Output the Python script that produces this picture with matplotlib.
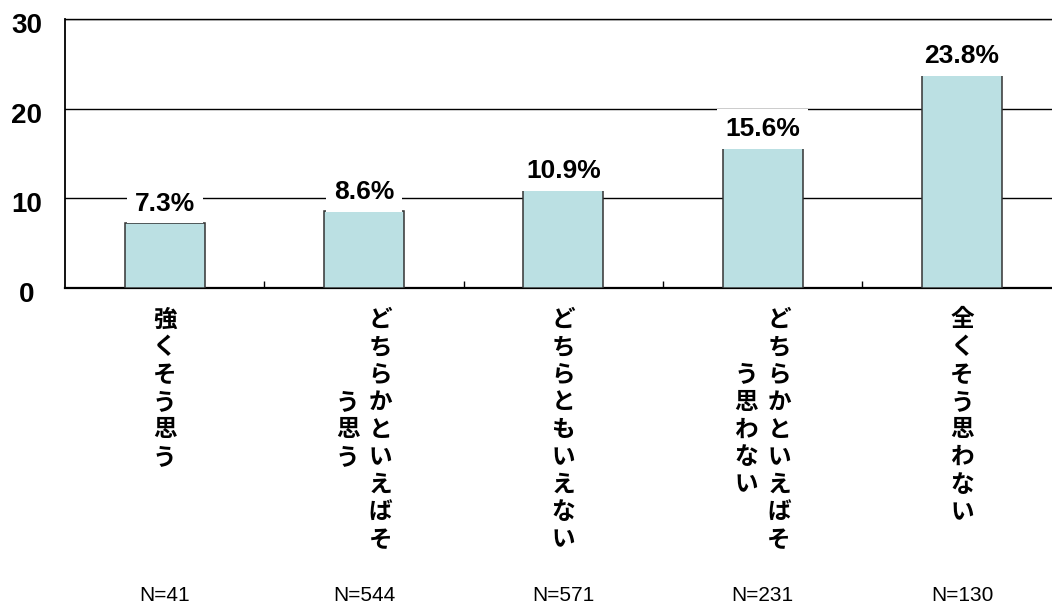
import matplotlib
matplotlib.use("Agg")
import matplotlib.pyplot as plt
from matplotlib.transforms import ScaledTranslation
import numpy as np

# Survey answers, share of respondents (%) and group sizes
categories = ["強くそう思う", "どちらかといえばそう思う", "どちらともいえない",
              "どちらかといえばそう思わない", "全くそう思わない"]
percentages = [7.3, 8.6, 10.9, 15.6, 23.8]
sample_sizes = [41, 544, 571, 231, 130]
y_ticks = [0, 10, 20, 30]

PT = 0.72            # points per pixel at 100 dpi
CHARS_PER_COLUMN = 9  # vertical category labels wrap after this many characters

plt.rcParams["font.family"] = ["Liberation Sans", "DejaVu Sans"]

fig = plt.figure(figsize=(10.52, 6.10), dpi=100)
ax = fig.add_axes([65 / 1052, 1 - 288 / 610, 1 - 65 / 1052, (288 - 19) / 610])

x = np.arange(len(categories))
ax.bar(x, percentages, width=0.4, color="#BBE0E3", edgecolor="#333333",
       linewidth=1.1, zorder=3)

ax.set_ylim(0, 30)
ax.set_xlim(-0.5, -0.5 + (1052 - 65) / 199.33)
ax.set_yticks(y_ticks)
ax.yaxis.grid(True, color="black", linewidth=1.0)
ax.set_axisbelow(True)

ax.spines["right"].set_visible(False)
ax.spines["top"].set_linewidth(1.0)
ax.spines["left"].set_linewidth(1.3)
ax.spines["bottom"].set_linewidth(1.6)

# y tick labels: bold, centred left of the axis, nudged slightly down
ax.tick_params(axis="y", length=0, pad=38 * PT, labelsize=20)
shift = ScaledTranslation(0, -4 / 100, fig.dpi_scale_trans)
for lab in ax.get_yticklabels():
    lab.set_fontweight("bold")
    lab.set_ha("center")
    lab.set_transform(lab.get_transform() + shift)

# small inward ticks on category boundaries
ax.set_xticks(x[:-1] + 0.5)
ax.set_xticklabels([])
ax.tick_params(axis="x", direction="in", length=5, width=1.0)

# value labels above bars, with a white box that breaks the gridlines
for xi, v in zip(x, percentages):
    ax.annotate(f"{v}%", xy=(xi, v), xytext=(0, 12 * PT), textcoords="offset points",
                ha="center", va="baseline", fontsize=19, fontweight="bold",
                bbox=dict(boxstyle="square,pad=0.3", fc="white", ec="none"),
                zorder=4)

# vertical category labels, columns running right to left
xaxis_tr = ax.get_xaxis_transform()
row_step = 27.5
col_gap = 33
for xi, label in zip(x, categories):
    cols = [label[k:k + CHARS_PER_COLUMN] for k in range(0, len(label), CHARS_PER_COLUMN)]
    ncol = len(cols)
    for c, col in enumerate(cols):
        dx = ((ncol - 1) / 2 - c) * col_gap
        start = (len(cols[0]) - len(col)) / 2
        for r, ch in enumerate(col):
            dy = -(31.5 + (start + r) * row_step)
            ax.annotate(ch, xy=(xi, 0), xycoords=xaxis_tr,
                        xytext=(dx * PT, dy * PT), textcoords="offset points",
                        ha="center", va="center", fontsize=17, fontweight="bold",
                        family=["Noto Sans CJK JP", "DejaVu Sans"],
                        annotation_clip=False)

# group sizes along the bottom
for xi, n in zip(x, sample_sizes):
    ax.annotate(f"N={n}", xy=(xi, 0), xycoords=xaxis_tr,
                xytext=(0, -307.5 * PT), textcoords="offset points",
                ha="center", va="center", fontsize=15, annotation_clip=False)

fig.savefig("out.png", dpi=100)
